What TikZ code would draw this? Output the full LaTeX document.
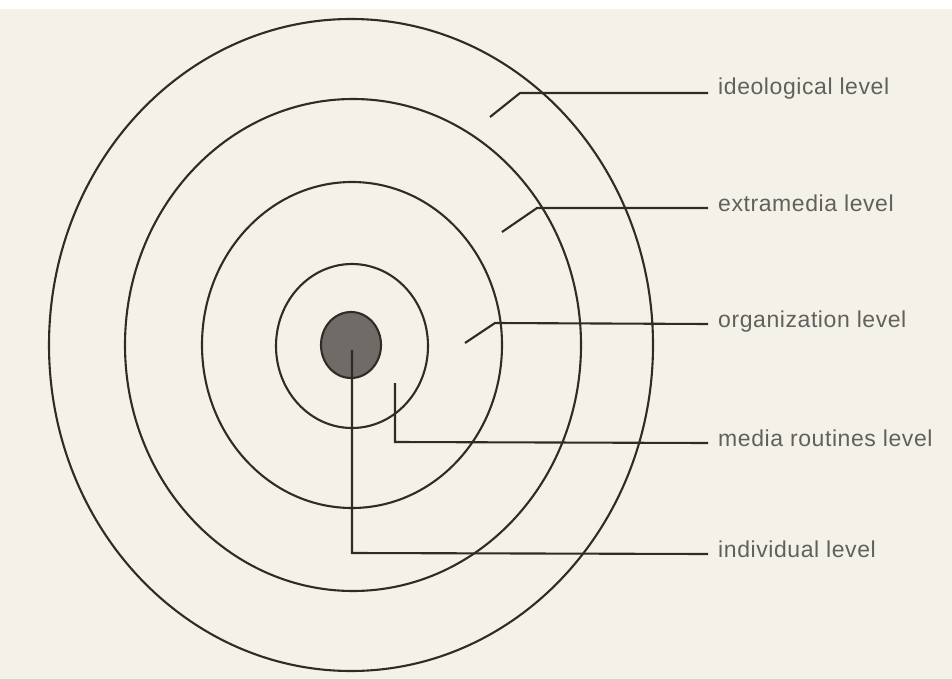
\documentclass[tikz,border=0pt]{standalone}
\usepackage{fontspec}
\setmainfont{Liberation Sans}
\newfontfamily\lvlfont[LetterSpace=2.5]{Liberation Sans}
\definecolor{paper}{HTML}{F4F1E9}
\definecolor{ink}{HTML}{2F2B27}
\definecolor{txt}{HTML}{62605C}
\definecolor{core}{HTML}{6F6B67}
\begin{document}
\begin{tikzpicture}[x=1pt,y=-1pt,
  ring/.style={draw=ink,line width=2.1pt},
  leader/.style={draw=ink,line width=2.1pt,line join=miter},
  lvl/.style={anchor=base west,inner sep=0pt,text=txt,font=\lvlfont\fontsize{23}{25}\selectfont}]
\useasboundingbox (0,0) rectangle (952,679);
\fill[paper] (0,0) rectangle (952,679);
\fill[white] (0,0) rectangle (952,9);
% rings
\draw[ring] (351,345) ellipse [x radius=302, y radius=326];
\draw[ring] (353,345) ellipse [x radius=228, y radius=246];
\draw[ring] (352,345) ellipse [x radius=150, y radius=163];
\draw[ring] (352,346) ellipse [x radius=76, y radius=82];
\draw[ring,fill=core] (351,345) ellipse [x radius=30, y radius=33];
% labels
\node[lvl] (l1) at (718,95) {ideological level};
\node[lvl] (l2) at (718,211) {extramedia level};
\node[lvl] (l3) at (718,327) {organization level};
\node[lvl] (l4) at (718,446) {media routines level};
\node[lvl] (l5) at (718,557) {individual level};
% leader points
\coordinate (s1) at (490,117); \coordinate (k1) at (520,93); \coordinate (e1) at (708,93);
\coordinate (s2) at (502,232); \coordinate (k2) at (537,208); \coordinate (e2) at (708,208);
\coordinate (s3) at (465,343); \coordinate (k3) at (495,323); \coordinate (e3) at (708,324);
\coordinate (s4) at (395,383); \coordinate (k4) at (395,442); \coordinate (e4) at (708,443);
\coordinate (s5) at (352,350); \coordinate (k5) at (352,553); \coordinate (e5) at (708,554);
\draw[leader] (s1) -- (k1) -- (e1);
\draw[leader] (s2) -- (k2) -- (e2);
\draw[leader] (s3) -- (k3) -- (e3);
\draw[leader] (s4) -- (k4) -- (e4);
\draw[leader] (s5) -- (k5) -- (e5);
\end{tikzpicture}
\end{document}
